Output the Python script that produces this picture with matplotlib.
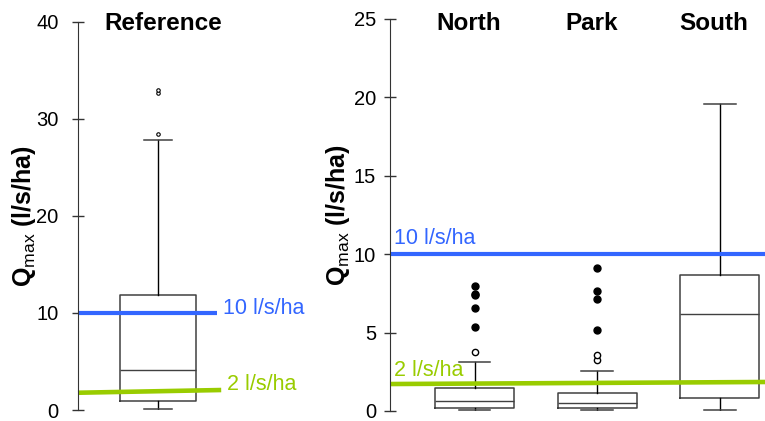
import matplotlib
matplotlib.use('Agg')
import matplotlib.pyplot as plt

plt.rcParams['font.family'] = ['Liberation Sans', 'DejaVu Sans']
plt.rcParams['mathtext.fontset'] = 'custom'
plt.rcParams['mathtext.rm'] = 'Liberation Sans'
plt.rcParams['mathtext.bf'] = 'Liberation Sans:bold'
plt.rcParams['mathtext.it'] = 'Liberation Sans:italic'

# Reference catchment
ref_name = 'Reference'
ref_q1, ref_med, ref_q3 = 0.93, 4.1, 11.9
ref_lo, ref_hi = 0.1, 27.8
ref_open = [28.5, 32.7, 33.0]

# Urban catchments
sites = ['North', 'Park', 'South']
q1 = [0.20, 0.17, 0.83]
med = [0.63, 0.48, 6.19]
q3 = [1.47, 1.17, 8.67]
whis_lo = [0.05, 0.04, 0.08]
whis_hi = [3.12, 2.57, 19.58]
out_open = [[3.78], [3.25, 3.55], []]
out_filled = [[5.38, 6.55, 7.37, 7.46, 7.97], [5.15, 7.14, 7.67, 9.1], []]

# Threshold lines (the green one is drawn slightly slanted in the original)
blue_val = 10
green_left = [1.78, 2.06]
green_right = [1.72, 1.85]
blue_lbl = '10 l/s/ha'
green_lbl = '2 l/s/ha'

BLUE = '#3366ff'
GREEN = '#99cc00'
BOXC = '#404040'
ylab = r'$\mathbf{Q}_{\mathrm{max}}\ \mathbf{(l/s/ha)}$'


def style_axis(ax, ticks, pad):
    for s in ['top', 'right', 'bottom']:
        ax.spines[s].set_visible(False)
    ax.spines['left'].set_color('#333333')
    ax.spines['left'].set_bounds(ticks[0], ticks[-1])
    ax.set_xticks([])
    ax.set_yticks(ticks)
    ax.tick_params(axis='y', direction='inout', length=8, width=1, color='#333333',
                   labelsize=14.5, pad=pad)


def stats(lo, a, m, b, hi):
    return dict(whislo=lo, q1=a, med=m, q3=b, whishi=hi, fliers=[])


props = dict(
    boxprops=dict(color=BOXC, lw=1.1),
    medianprops=dict(color=BOXC, lw=1.0),
    whiskerprops=dict(color='black', lw=1.0),
    capprops=dict(color=BOXC, lw=1.1),
)

fig = plt.figure(figsize=(7.65, 4.21), dpi=100)

# ---- left panel
ax1 = fig.add_axes([78 / 765, 11 / 421, 160 / 765, 388 / 421])
ax1.bxp([stats(ref_lo, ref_q1, ref_med, ref_q3, ref_hi)], positions=[1], widths=0.94,
        capwidths=0.35, showfliers=False, **props)
ax1.plot([1] * len(ref_open), ref_open, 'o', mfc='white', mec='black', ms=2.5, mew=0.8)
ax1.set_xlim(0, 2)
ax1.set_ylim(0, 40)
style_axis(ax1, [0, 10, 20, 30, 40], 10)
ax1.plot([0, 1.74], [blue_val, blue_val], color=BLUE, lw=3, clip_on=False, solid_capstyle='butt')
ax1.plot([0, 1.79], green_left, color=GREEN, lw=3.3, clip_on=False, solid_capstyle='butt')
ax1.text(1.81, 10.5, blue_lbl, color=BLUE, fontsize=15.5, va='center', ha='left', clip_on=False)
ax1.text(1.86, 2.6, green_lbl, color=GREEN, fontsize=15.5, va='center', ha='left', clip_on=False)
ax1.text(1.06, 39.2, ref_name, fontsize=17.5, fontweight='bold', ha='center', va='baseline')
ax1.set_ylabel(ylab, fontsize=18)
ax1.yaxis.set_label_coords(-0.25, 0.5)

# ---- right panel
ax2 = fig.add_axes([390 / 765, 10 / 421, 375 / 765, 392 / 421])
st = [stats(whis_lo[i], q1[i], med[i], q3[i], whis_hi[i]) for i in range(len(sites))]
ax2.bxp(st, positions=[1, 2, 3], widths=0.645, capwidths=0.26, showfliers=False, **props)
for i in range(len(sites)):
    ax2.plot([i + 1] * len(out_open[i]), out_open[i], 'o', mfc='white', mec='black', ms=4.5, mew=1)
    ax2.plot([i + 1] * len(out_filled[i]), out_filled[i], 'o', color='black', ms=5)
    ax2.text(i + 0.955, 24.3, sites[i], fontsize=17.5, fontweight='bold', ha='center', va='baseline')
ax2.set_xlim(0.31, 3.37)
ax2.set_ylim(0, 25)
style_axis(ax2, [0, 5, 10, 15, 20, 25], 6)
ax2.plot([0.31, 3.37], [blue_val, blue_val], color=BLUE, lw=3, clip_on=False, solid_capstyle='butt')
ax2.plot([0.31, 3.37], green_right, color=GREEN, lw=3.3, clip_on=False, solid_capstyle='butt')
ax2.text(0.343, 11.03, blue_lbl, color=BLUE, fontsize=15.5, va='center', ha='left')
ax2.text(0.343, 2.6, green_lbl, color=GREEN, fontsize=15.5, va='center', ha='left')
ax2.set_ylabel(ylab, fontsize=18)
ax2.yaxis.set_label_coords(-0.102, 0.5)

fig.savefig('out.png', dpi=100)
